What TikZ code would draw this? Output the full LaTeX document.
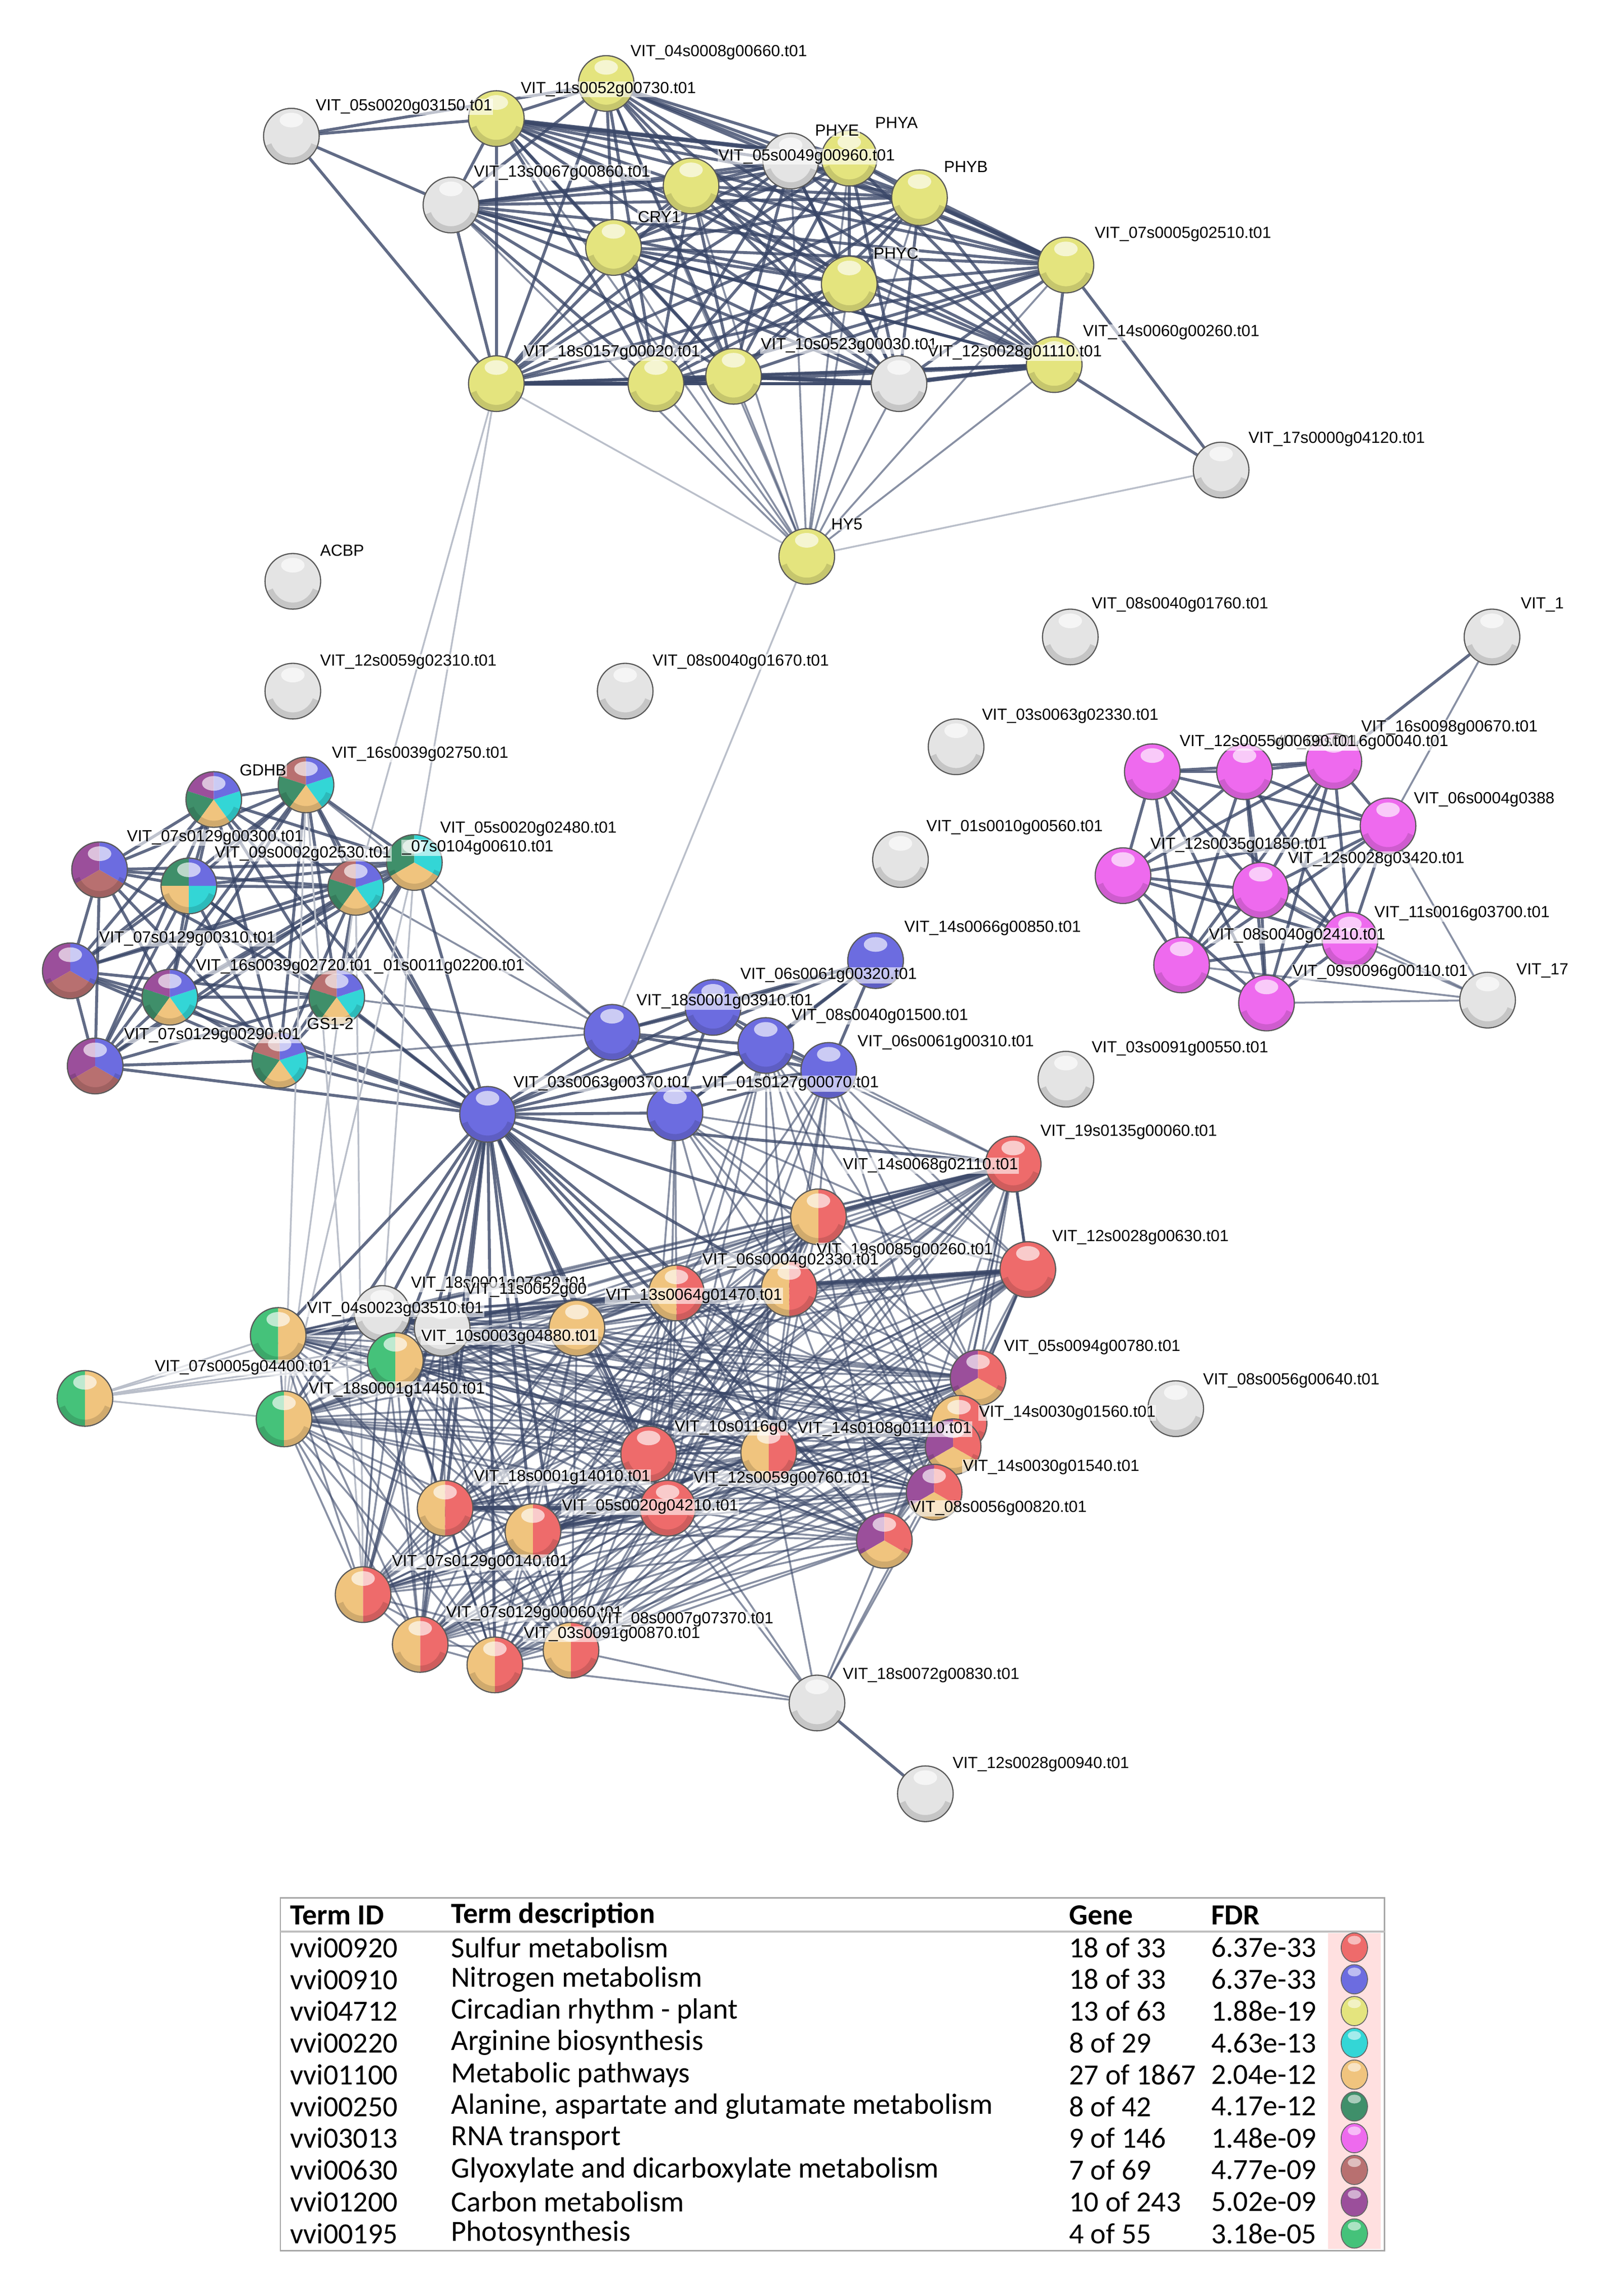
\documentclass[tikz,border=0pt]{standalone}
\usepackage{fontspec}
\setmainfont{Liberation Sans}
\newfontfamily\legfont{Carlito}
\usetikzlibrary{calc}
\definecolor{cred}{HTML}{EE6B6B}
\definecolor{cblu}{HTML}{6C6CE0}
\definecolor{cye}{HTML}{E4E47E}
\definecolor{ccy}{HTML}{33D6D6}
\definecolor{cor}{HTML}{F0C47E}
\definecolor{cgr}{HTML}{3F8F6A}
\definecolor{cmg}{HTML}{EE6AEE}
\definecolor{cgl}{HTML}{B87070}
\definecolor{cpu}{HTML}{9B4F9B}
\definecolor{cps}{HTML}{45C27A}
\definecolor{cwh}{HTML}{E4E4E4}
\definecolor{edgec}{HTML}{3A4768}
\pgfdeclarelayer{bg}
\pgfsetlayers{bg,main}
\newcommand\ball[3]{%
  \node[circle,minimum size=38pt,inner sep=0pt] (#1) at (#2) {};
  \gdef\bcnt{0}\foreach \c in {#3}{\xdef\bcnt{\the\numexpr\bcnt+1\relax}}%
  \foreach \c [count=\k] in {#3}{%
    \pgfmathsetmacro\aS{90+(\k-1)*360/\bcnt}\pgfmathsetmacro\aE{90+\k*360/\bcnt}%
    \fill[\c] (#1.center) -- ++(\aS:19pt) arc[start angle=\aS,end angle=\aE,radius=19pt] -- cycle;}%
  \draw[black,opacity=.13,line width=4pt] ($(#1.center)+(200:16.5pt)$) arc[start angle=200,end angle=340,radius=16.5pt];
  \fill[white,opacity=.65] ($(#1.center)+(0,11pt)$) ellipse (8pt and 5pt);
  \draw[black!65,line width=.8pt] (#1.center) circle (19pt);}
\newcommand\clique[2]{\foreach \a [count=\i] in {#2}{\foreach \b [count=\j] in {#2}{\ifnum\j>\i \draw[#1] (\a) -- (\b);\fi}}}
\tikzset{
  lbl/.style={anchor=west,font=\fontsize{11}{11}\selectfont,inner sep=.5pt,fill=white,fill opacity=.6,text opacity=1},
  e/.style={draw=edgec,line width=2pt,opacity=.8},
  eh/.style={draw=edgec,line width=3pt,opacity=.85},
  et/.style={draw=edgec,line width=1.3pt,opacity=.6},
  el/.style={draw=edgec!35,line width=1.2pt},
  leg/.style={anchor=west,font=\legfont\fontsize{20}{20}\selectfont,inner sep=0pt},
  legb/.style={leg,font=\legfont\bfseries\fontsize{20}{20}\selectfont}
}
\begin{document}
\begin{tikzpicture}[x=1pt,y=-1pt]
\useasboundingbox (0,0) rectangle (1100,1568);
\begin{pgfonlayer}{bg}
\fill[white] (0,0) rectangle (1100,1568);
\end{pgfonlayer}
% ---- top cluster
\ball{w1}{199,93}{cwh}
\ball{y1}{339,81}{cye}
\ball{y2}{414,57}{cye}
\ball{w2}{308,140}{cwh}
\ball{w3}{540,110}{cwh}
\ball{y4}{580,108}{cye}
\ball{y3}{472,127}{cye}
\ball{y5}{628,135}{cye}
\ball{y6}{419,169}{cye}
\ball{y7}{580,194}{cye}
\ball{y8}{728,181}{cye}
\ball{y9}{339,262}{cye}
\ball{y10}{448,262}{cye}
\ball{y11}{501,257}{cye}
\ball{w4}{614,262}{cwh}
\ball{y12}{720,249}{cye}
\ball{w5}{834,321}{cwh}
\ball{y13}{551,380}{cye}
% ---- isolated
\ball{w6}{200,397}{cwh}
\ball{w7}{200,472}{cwh}
\ball{w8}{427,472}{cwh}
\ball{w9}{731,435}{cwh}
\ball{w10}{1019,435}{cwh}
\ball{w11}{653,510}{cwh}
\ball{w12}{615,587}{cwh}
\ball{w14}{728,737}{cwh}
% ---- pink cluster
\ball{p1}{787,527}{cmg}
\ball{p2}{850,527}{cmg}
\ball{p3}{911,520}{cmg}
\ball{p4}{948,564}{cmg}
\ball{p5}{767,598}{cmg}
\ball{p6}{861,608}{cmg}
\ball{p7}{922,642}{cmg}
\ball{p8}{807,659}{cmg}
\ball{p9}{865,685}{cmg}
\ball{w13}{1016,683}{cwh}
% ---- left cluster
\ball{m1}{146,546}{cpu,cgr,cor,ccy,cblu}
\ball{m2}{209,536}{cgl,cgr,cor,ccy,cblu}
\ball{m3}{283,589}{cgr,cor,ccy}
\ball{m4}{68,594}{cpu,cgl,cblu}
\ball{m5}{129,605}{cgr,cor,ccy,cblu}
\ball{m6}{243,606}{cgl,cgr,cor,ccy,cblu}
\ball{m7}{48,663}{cpu,cgl,cblu}
\ball{m8}{116,681}{cpu,cgr,cor,ccy,cblu}
\ball{m9}{230,681}{cgl,cgr,cor,ccy,cblu}
\ball{m10}{65,728}{cpu,cgl,cblu}
\ball{m11}{191,724}{cgl,cgr,cor,ccy,cblu}
% ---- blue
\ball{b1}{598,656}{cblu}
\ball{b2}{487,688}{cblu}
\ball{b3}{418,705}{cblu}
\ball{b4}{523,714}{cblu}
\ball{b5}{566,731}{cblu}
\ball{b6}{333,761}{cblu}
\ball{b7}{461,760}{cblu}
% ---- lower cluster
\ball{r1}{692,795}{cred}
\ball{o1}{559,831}{cor,cred}
\ball{r2}{702,867}{cred}
\ball{ro2}{539,880}{cor,cred}
\ball{ro1}{462,883}{cor,cred}
\ball{w15}{261,897}{cwh}
\ball{w16}{302,907}{cwh}
\ball{o2}{394,907}{cor}
\ball{g1}{190,912}{cps,cor}
\ball{g2}{270,929}{cps,cor}
\ball{g0}{58,955}{cps,cor}
\ball{g3}{194,969}{cps,cor}
\ball{pu1}{668,941}{cpu,cor,cred}
\ball{w19}{803,962}{cwh}
\ball{x0}{655,972}{cor,cred}
\ball{x1}{651,988}{cpu,cor,cred}
\ball{x2}{638,1019}{cpu,cor,cred}
\ball{r3}{443,993}{cred}
\ball{or3}{525,992}{cor,cred}
\ball{r4}{456,1030}{cred}
\ball{or4}{304,1030}{cor,cred}
\ball{or5}{364,1046}{cor,cred}
\ball{pu2}{604,1052}{cpu,cor,cred}
\ball{or6}{248,1089}{cor,cred}
\ball{or7}{287,1123}{cor,cred}
\ball{or9}{390,1127}{cor,cred}
\ball{or8}{338,1137}{cor,cred}
\ball{w17}{558,1163}{cwh}
\ball{w18}{632,1225}{cwh}
% ---- edges
\begin{pgfonlayer}{bg}
\clique{e}{y1,y2,w2,y3,w3,y4,y5,y6,y7,y8,y9,y10,y11,w4,y12}
\foreach \a in {y1,y2,w2,y3,w3,y4,y5,y6,y7,y8,y10,y11,w4,y12}{\draw[et] (y13) -- (\a);}
\draw[eh] (y9) -- (y10); \draw[eh] (y10) -- (y11); \draw[eh] (y11) -- (w4); \draw[eh] (w4) -- (y12);
\draw[eh] (y5) -- (y8); \draw[eh] (y1) -- (y4);
\foreach \a in {y1,y2,y9,w2}{\draw[e] (w1) -- (\a);}
\draw[e] (w5) -- (y12); \draw[e] (w5) -- (y8); \draw[el] (w5) -- (y13); \draw[el] (y9) -- (y13);
\draw[el] (y9) -- (m3); \draw[el] (y9) -- (m6); \draw[el] (y13) -- (b3);
\clique{e}{m1,m2,m3,m4,m5,m6,m7,m8,m9,m10,m11}
\foreach \a in {m1,m2,m3,m5,m6,m8,m9,m10,m11,m7}{\draw[e] (b6) -- (\a);}
\foreach \a in {m3,m6,m9,m11,m2}{\draw[et] (b3) -- (\a);}
\foreach \a in {m3,m6,m2}{\draw[el] (\a) -- (g3); \draw[el] (\a) -- (or6);}
\clique{e}{b1,b2,b3,b4,b5,b6,b7}
\clique{et}{r1,o1,r2,ro2,ro1,w15,w16,o2,g1,g2,g3,pu1,x0,x1,x2,r3,or3,r4,or4,or5,pu2,or6,or7,or9,or8}
\foreach \a in {r1,o1,ro2,ro1,w15,w16,o2,g1,g2,g3,r3,or3,r4,or4,or5,pu2,or6,or7,or9,or8,x2}{\draw[e] (b6) -- (\a);}
\foreach \a in {o1,ro2,ro1,r3,or3,r4,pu1,x1,r1,r2}{\draw[et] (b7) -- (\a); \draw[et] (b4) -- (\a); \draw[et] (b5) -- (\a);}
\draw[eh] (ro1) -- (r2); \draw[eh] (o1) -- (r1); \draw[e] (r1) -- (r2); \draw[eh] (or4) -- (r4); \draw[eh] (or5) -- (r4); \draw[eh] (g1) -- (ro1);
\foreach \a in {pu2,x2,r4,or9,or8,or3,r3,x1}{\draw[et] (w17) -- (\a);}
\draw[e] (w17) -- (w18);
\foreach \a in {g1,g2,g3,w15,o2,ro1}{\draw[el] (g0) -- (\a);}
\clique{e}{p1,p2,p3,p4,p5,p6,p7,p8,p9}
\foreach \a in {p7,p9,p8,p4,p6}{\draw[et] (w13) -- (\a);}
\draw[e] (w10) -- (p3); \draw[et] (w10) -- (p4);
\end{pgfonlayer}
% ---- labels
\node[lbl] (l1) at (215,73) {VIT\_05s0020g03150.t01};
\node[lbl] (l2) at (430,36) {VIT\_04s0008g00660.t01};
\node[lbl] (l3) at (355,61) {VIT\_11s0052g00730.t01};
\node[lbl] (l4) at (323,118) {VIT\_13s0067g00860.t01};
\node[lbl] (l5) at (490,107) {VIT\_05s0049g00960.t01};
\node[lbl] (l6) at (556,89) {PHYE};
\node[lbl] (l7) at (597,84) {PHYA};
\node[lbl] (l8) at (644,114) {PHYB};
\node[lbl] (l9) at (435,148) {CRY1};
\node[lbl] (l10) at (596,173) {PHYC};
\node[lbl] (l11) at (747,160) {VIT\_07s0005g02510.t01};
\node[lbl] (l12) at (739,227) {VIT\_14s0060g00260.t01};
\node[lbl] (l13) at (357,241) {VIT\_18s0157g00020.t01};
\node[lbl] (l14) at (519,236) {VIT\_10s0523g00030.t01};
\node[lbl] (l15) at (633,241) {VIT\_12s0028g01110.t01};
\node[lbl] (l16) at (852,300) {VIT\_17s0000g04120.t01};
\node[lbl] (l17) at (567,358) {HY5};
\node[lbl] (l18) at (218,376) {ACBP};
\node[lbl] (l19) at (218,452) {VIT\_12s0059g02310.t01};
\node[lbl] (l20) at (445,452) {VIT\_08s0040g01670.t01};
\node[lbl] (l21) at (745,413) {VIT\_08s0040g01760.t01};
\node[lbl] (l22) at (1038,413) {VIT\_1};
\node[lbl] (l23) at (670,489) {VIT\_03s0063g02330.t01};
\node[lbl] (l24) at (632,565) {VIT\_01s0010g00560.t01};
\node[lbl] (l25) at (929,497) {VIT\_16s0098g00670.t01};
\node[lbl] (l26) at (868,507) {VIT\_06s0016g00040.t01};
\node[lbl] (l27) at (805,507) {VIT\_12s0055g00690.t01};
\node[lbl] (l28) at (965,546) {VIT\_06s0004g0388};
\node[lbl] (l29) at (785,577) {VIT\_12s0035g01850.t01};
\node[lbl] (l30) at (879,587) {VIT\_12s0028g03420.t01};
\node[lbl] (l31) at (938,624) {VIT\_11s0016g03700.t01};
\node[lbl] (l32) at (825,639) {VIT\_08s0040g02410.t01};
\node[lbl] (l33) at (882,664) {VIT\_09s0096g00110.t01};
\node[lbl] (l34) at (1035,663) {VIT\_17};
\node[lbl] (l35) at (745,716) {VIT\_03s0091g00550.t01};
\node[lbl] (l36) at (163,526) {GDHB};
\node[lbl] (l37) at (226,515) {VIT\_16s0039g02750.t01};
\node[lbl] (l38) at (300,566) {VIT\_05s0020g02480.t01};
\node[lbl] (l39) at (86,572) {VIT\_07s0129g00300.t01};
\node[lbl] (l40) at (146,583) {VIT\_09s0002g02530.t01};
\node[lbl] (l41) at (274,579) {\_07s0104g00610.t01};
\node[lbl] (l42) at (67,641) {VIT\_07s0129g00310.t01};
\node[lbl] (l43) at (255,660) {\_01s0011g02200.t01};
\node[lbl] (l44) at (133,660) {VIT\_16s0039g02720.t01};
\node[lbl] (l45) at (84,707) {VIT\_07s0129g00290.t01};
\node[lbl] (l46) at (209,699) {GS1-2};
\node[lbl] (l47) at (617,634) {VIT\_14s0066g00850.t01};
\node[lbl] (l48) at (505,666) {VIT\_06s0061g00320.t01};
\node[lbl] (l49) at (434,684) {VIT\_18s0001g03910.t01};
\node[lbl] (l50) at (540,694) {VIT\_08s0040g01500.t01};
\node[lbl] (l51) at (585,712) {VIT\_06s0061g00310.t01};
\node[lbl] (l52) at (350,740) {VIT\_03s0063g00370.t01};
\node[lbl] (l53) at (479,740) {VIT\_01s0127g00070.t01};
\node[lbl] (l54) at (710,773) {VIT\_19s0135g00060.t01};
\node[lbl] (l55) at (575,796) {VIT\_14s0068g02110.t01};
\node[lbl] (l56) at (718,845) {VIT\_12s0028g00630.t01};
\node[lbl] (l57) at (557,854) {VIT\_19s0085g00260.t01};
\node[lbl] (l58) at (479,861) {VIT\_06s0004g02330.t01};
\node[lbl] (l59) at (280,877) {VIT\_18s0001g07620.t01};
\node[lbl] (l60) at (317,881) {VIT\_11s0052g00};
\node[lbl] (l61) at (413,885) {VIT\_13s0064g01470.t01};
\node[lbl] (l62) at (209,894) {VIT\_04s0023g03510.t01};
\node[lbl] (l63) at (287,913) {VIT\_10s0003g04880.t01};
\node[lbl] (l64) at (105,934) {VIT\_07s0005g04400.t01};
\node[lbl] (l65) at (210,949) {VIT\_18s0001g14450.t01};
\node[lbl] (l66) at (685,920) {VIT\_05s0094g00780.t01};
\node[lbl] (l67) at (821,943) {VIT\_08s0056g00640.t01};
\node[lbl] (l68) at (668,965) {VIT\_14s0030g01560.t01};
\node[lbl] (l69) at (460,975) {VIT\_10s0116g0};
\node[lbl] (l70) at (544,976) {VIT\_14s0108g01110.t01};
\node[lbl] (l71) at (657,1002) {VIT\_14s0030g01540.t01};
\node[lbl] (l72) at (323,1009) {VIT\_18s0001g14010.t01};
\node[lbl] (l73) at (473,1010) {VIT\_12s0059g00760.t01};
\node[lbl] (l74) at (383,1029) {VIT\_05s0020g04210.t01};
\node[lbl] (l75) at (621,1030) {VIT\_08s0056g00820.t01};
\node[lbl] (l76) at (267,1067) {VIT\_07s0129g00140.t01};
\node[lbl] (l77) at (304,1102) {VIT\_07s0129g00060.t01};
\node[lbl] (l78) at (407,1106) {VIT\_08s0007g07370.t01};
\node[lbl] (l79) at (357,1116) {VIT\_03s0091g00870.t01};
\node[lbl] (l80) at (575,1144) {VIT\_18s0072g00830.t01};
\node[lbl] (l81) at (650,1205) {VIT\_12s0028g00940.t01};
% ---- legend
\fill[red!12] (907,1320) rectangle (943,1536);
\draw[black!35,line width=1pt] (191.5,1296) rectangle (945.7,1537);
\draw[black!25,line width=1.5pt] (191.5,1319) -- (945.7,1319);
\node[legb] (h1) at (198,1308) {Term ID};
\node[legb] (h2) at (308,1308) {Term description};
\node[legb] (h3) at (730,1308) {Gene};
\node[legb] (h4) at (827,1308) {FDR};
\foreach \id/\de/\ge/\fd/\co [count=\r from 0] in {
 vvi00920/Sulfur metabolism/18 of 33/6.37e-33/cred,
 vvi00910/Nitrogen metabolism/18 of 33/6.37e-33/cblu,
 vvi04712/Circadian rhythm - plant/13 of 63/1.88e-19/cye,
 vvi00220/Arginine biosynthesis/8 of 29/4.63e-13/ccy,
 vvi01100/Metabolic pathways/27 of 1867/2.04e-12/cor,
 vvi00250/{Alanine, aspartate and glutamate metabolism}/8 of 42/4.17e-12/cgr,
 vvi03013/RNA transport/9 of 146/1.48e-09/cmg,
 vvi00630/Glyoxylate and dicarboxylate metabolism/7 of 69/4.77e-09/cgl,
 vvi01200/Carbon metabolism/10 of 243/5.02e-09/cpu,
 vvi00195/Photosynthesis/4 of 55/3.18e-05/cps}{
 \pgfmathsetmacro\yy{1330+21.7*\r}
 \node[leg] (ti\r) at (198,\yy) {\id};
 \node[leg] (td\r) at (308,\yy) {\de};
 \node[leg] (tg\r) at (730,\yy) {\ge};
 \node[leg] (tf\r) at (827,\yy) {\fd};
 \fill[\co,draw=black!60,line width=.6pt] (925,\yy) ellipse (9pt and 10pt);
 \fill[white,opacity=.55] (925,\yy-5) ellipse (4.5pt and 3pt);
}
\end{tikzpicture}
\end{document}
